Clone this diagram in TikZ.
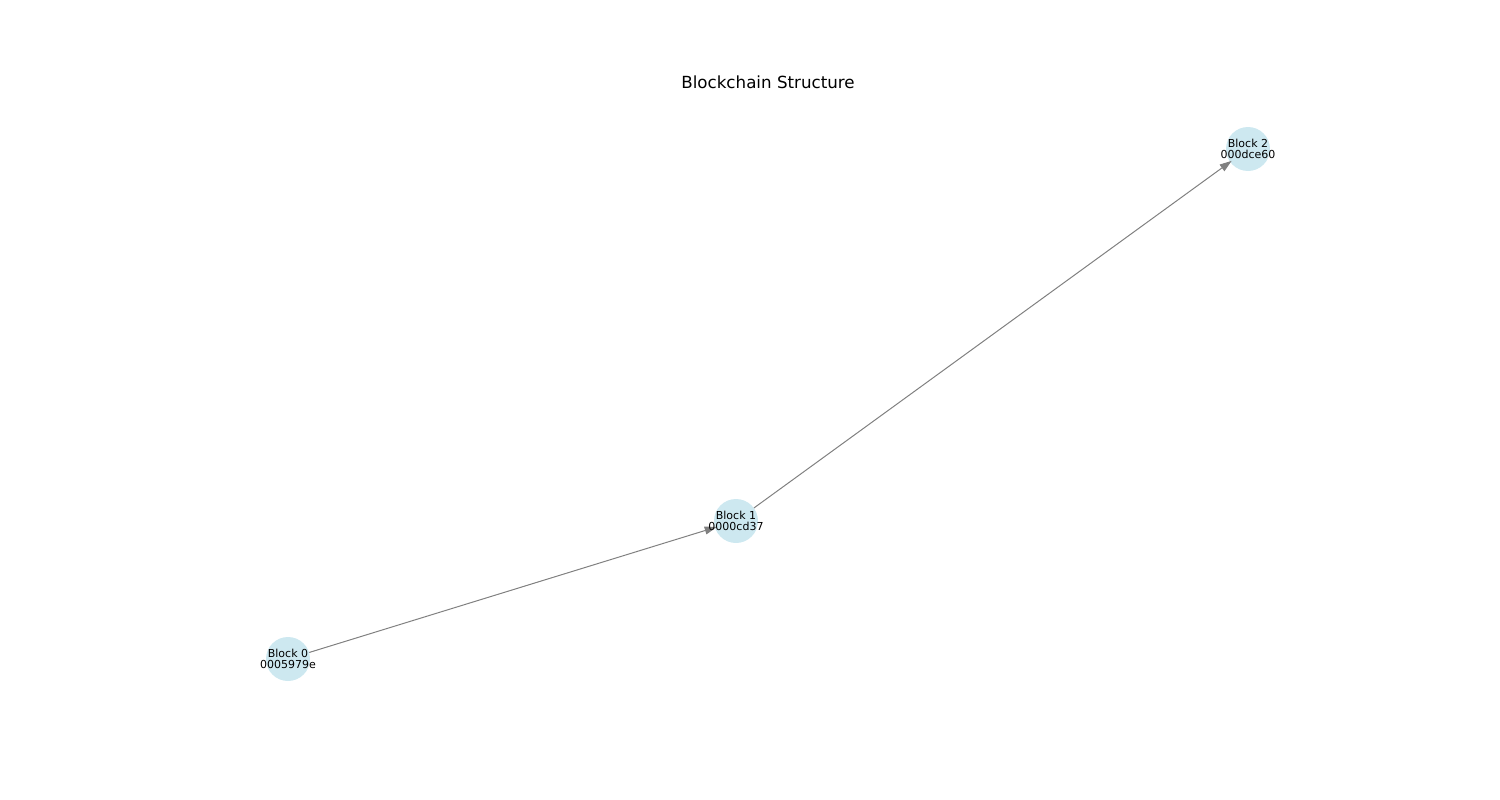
\documentclass[tikz,border=0pt]{standalone}
\usepackage{fontspec}
\setmainfont{DejaVu Sans}
\usetikzlibrary{arrows.meta}
\definecolor{blockfill}{RGB}{205,232,240}
\definecolor{edgegray}{RGB}{128,128,128}
\begin{document}
\begin{tikzpicture}[x=1pt,y=-1pt,line join=round,
    block/.style={circle,fill=blockfill,minimum size=44pt,inner sep=0pt},
    blocktext/.style={font=\fontsize{11}{11.5}\selectfont,align=center},
    link/.style={draw=edgegray,line width=1pt,shorten >=-2pt,
      -{Triangle[length=12pt,width=8pt]}}]
\useasboundingbox (0,0) rectangle (1500,800);

    \node[font=\fontsize{16.7}{20}\selectfont] (title) at (768,82) {Blockchain Structure};

    \node[block] (b0) at (288,659) {};
    \node[block] (b1) at (736,521) {};
    \node[block] (b2) at (1248,149) {};

    \draw[link] (b0)--(b1);
    \draw[link] (b1)--(b2);

    \node[blocktext] (t0) at (b0) {Block 0\\0005979e};
    \node[blocktext] (t1) at (b1) {Block 1\\0000cd37};
    \node[blocktext] (t2) at (b2) {Block 2\\000dce60};
\end{tikzpicture}
\end{document}
